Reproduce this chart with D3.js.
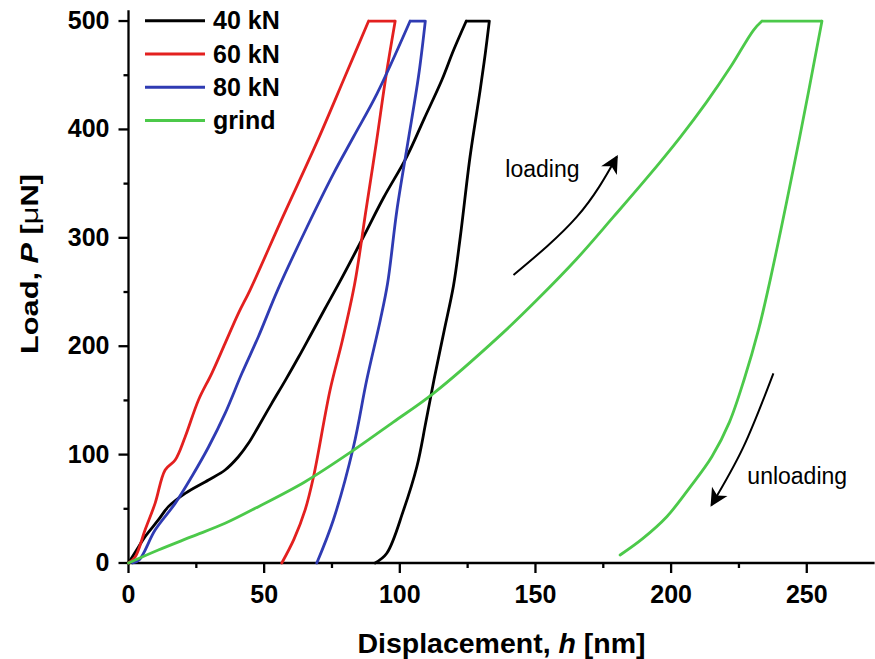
<!DOCTYPE html>
<html>
<head>
<meta charset="utf-8">
<script src="https://cdn.jsdelivr.net/npm/d3@7"></script>
<style>
  html, body { margin: 0; padding: 0; background: #fff; }
  svg { display: block; font-family: "Liberation Sans", Arial, Helvetica, sans-serif; }
</style>
</head>
<body>
<svg id="chart" width="875" height="659"></svg>
<script>
// Load–displacement curves (loading, hold at peak, unloading), h in nm, P in µN
const h40 = [0, 3, 6.1, 11, 14.7, 20.9, 29.5, 35.6, 40.5, 44.2, 47.9, 52.8, 57.7, 62.7, 67.5, 72.5, 78, 86.6, 94, 102.6, 109, 115.5, 119.8, 124.5,
             133, 131.5, 129.6, 125.9, 122.3, 119.8, 116.4, 112.6, 109.6, 106.3, 101.4, 95.2, 90.9];
const p40 = [0, 12, 24.3, 39.7, 52, 64.3, 76.6, 85.8, 98, 110.4, 126, 147.3, 168, 190, 212, 235, 260, 301, 337, 375, 410, 445.6, 473, 500,
             500, 470, 436, 375, 301, 256, 215, 169, 130, 89, 49, 9, 0];

const h60 = [0, 2.5, 6.1, 9.8, 13.5, 17.2, 20.9, 25.8, 30.7, 35.6, 40.5, 44.8, 57, 69.4, 80, 88.5,
             98.3, 94.9, 91.3, 87.5, 83.4, 78.8, 74.3, 68.2, 65.1, 61, 56.5];
const p60 = [0, 5.8, 30.4, 55, 85.8, 95, 116.5, 150.4, 175, 202.6, 230.3, 251.8, 320, 388, 450, 500,
             500, 449, 387, 325, 258, 205, 159.6, 79.6, 49, 22, 0];

const h80 = [1.5, 4, 9.8, 17.2, 23.3, 29.5, 35.6, 41.8, 47.9, 55, 65.8, 75.6, 82.9, 91.6, 103.8,
             109.4, 106.9, 102.9, 98.9, 95.5, 92.8, 87.8, 82.9, 75.5, 69.4];
const p80 = [0, 3, 30.4, 55, 79.6, 107, 138, 175, 209, 252, 310, 359.5, 393, 433, 500,
             500, 449, 387, 325, 258, 224, 168.8, 107, 39.7, 0];

const hGrind = [0, 11, 23.3, 35.6, 47.9, 65.1, 82.9, 97.6, 112.4, 137, 150.5, 165, 178.8, 191, 203.4, 213, 222, 230.4, 233.5,
                255.6, 247.4, 236.5, 232.2, 227, 221.5, 215, 207, 198.4, 189.5, 181.2];
const pGrind = [0, 12, 24.3, 36.6, 52, 75, 104, 130, 156.5, 210, 242.6, 280, 319.5, 355, 393, 425, 458, 491.7, 500,
                500, 393, 261, 215, 170, 130, 98, 70, 42.7, 22.5, 7.4];

const seriesNames = ["40 kN", "60 kN", "80 kN", "grind"];
const seriesColors = ["#000000", "#e3201f", "#2f3bb3", "#4cc94a"];

const xMajorTicks = [0, 50, 100, 150, 200, 250];
const xMinorTicks = [25, 75, 125, 175, 225];
const yMajorTicks = [0, 100, 200, 300, 400, 500];
const yMinorTicks = [50, 150, 250, 350, 450];

// Annotation arrows (curved) and their labels, in data units
const loadingArrow = [[141.9, 265.7], [165.3, 319.5], [180.0, 374.8]];
const unloadingArrow = [[237.7, 174.9], [226.7, 107.3], [214.9, 53.5]];
const loadingLabel = { text: "loading", h: 138.9, p: 356.4 };
const unloadingLabel = { text: "unloading", h: 228.1, p: 72.9 };

const series = [
  { name: seriesNames[0], color: seriesColors[0], h: h40, p: p40 },
  { name: seriesNames[1], color: seriesColors[1], h: h60, p: p60 },
  { name: seriesNames[2], color: seriesColors[2], h: h80, p: p80 },
  { name: seriesNames[3], color: seriesColors[3], h: hGrind, p: pGrind }
];

const svg = d3.select("#chart");

const x = d3.scaleLinear().domain([0, 275]).range([128.5, 874.6]);
const y = d3.scaleLinear().domain([0, 510]).range([563, 10.2]);

// ---- axes ----
function styleAxis(g, fontSize) {
  g.select(".domain").attr("stroke", "#000").attr("stroke-width", 2.3);
  g.selectAll(".tick line").attr("stroke", "#000").attr("stroke-width", 2.3);
  g.selectAll(".tick text")
    .attr("fill", "#000")
    .style("font-size", fontSize + "px")
    .style("font-weight", "bold")
    .style("font-family", '"Liberation Sans", Arial, sans-serif');
}

const gxMinor = svg.append("g")
  .attr("transform", `translate(0,${y(0)})`)
  .call(d3.axisBottom(x).tickValues(xMinorTicks).tickSize(5).tickSizeOuter(0).tickFormat("").offset(0));
gxMinor.select(".domain").remove();
gxMinor.selectAll(".tick line").attr("stroke", "#000").attr("stroke-width", 2.3);

const gyMinor = svg.append("g")
  .attr("transform", `translate(${x(0)},0)`)
  .call(d3.axisLeft(y).tickValues(yMinorTicks).tickSize(5).tickSizeOuter(0).tickFormat("").offset(0));
gyMinor.select(".domain").remove();
gyMinor.selectAll(".tick line").attr("stroke", "#000").attr("stroke-width", 2.3);

const gx = svg.append("g")
  .attr("transform", `translate(0,${y(0)})`)
  .call(d3.axisBottom(x).tickValues(xMajorTicks).tickSize(10).tickPadding(12).tickSizeOuter(0).offset(0));
styleAxis(gx, 25);

const gy = svg.append("g")
  .attr("transform", `translate(${x(0)},0)`)
  .call(d3.axisLeft(y).tickValues(yMajorTicks).tickSize(10).tickPadding(9).tickSizeOuter(0).offset(0));
styleAxis(gy, 25);

// ---- axis titles ----
const xTitle = svg.append("text")
  .attr("x", 501.5).attr("y", 653)
  .attr("text-anchor", "middle")
  .style("font-size", "28.5px").style("font-weight", "bold").attr("fill", "#000");
xTitle.append("tspan").text("Displacement, ");
xTitle.append("tspan").style("font-style", "italic").text("h");
xTitle.append("tspan").text(" [nm]");

const yTitle = svg.append("text")
  .attr("transform", "translate(37.5,264) rotate(-90)")
  .attr("text-anchor", "middle")
  .attr("textLength", 180).attr("lengthAdjust", "spacingAndGlyphs")
  .style("font-size", "24.5px").style("font-weight", "bold").attr("fill", "#000");
yTitle.append("tspan").text("Load, ");
yTitle.append("tspan").style("font-style", "italic").text("P");
yTitle.append("tspan").text(" [");
yTitle.append("tspan").style("font-weight", "normal").text("\u03bc");
yTitle.append("tspan").text("N]");

// ---- curves: each drawn as loading / hold / unloading pieces ----
const smooth = d3.line()
  .x(d => x(d[0]))
  .y(d => y(d[1]))
  .curve(d3.curveCatmullRom.alpha(0.5));

function curvePath(s) {
  const pts = s.h.map((h, i) => [h, s.p[i]]);
  const peak = d3.max(s.p);
  const i0 = s.p.indexOf(peak);
  const i1 = s.p.lastIndexOf(peak);
  return smooth(pts.slice(0, i0 + 1)) +
         smooth(pts.slice(i0, i1 + 1)) +
         smooth(pts.slice(i1));
}

svg.append("g").selectAll("path.curve")
  .data(series)
  .join("path")
  .attr("class", "curve")
  .attr("fill", "none")
  .attr("stroke", d => d.color)
  .attr("stroke-width", 2.8)
  .attr("stroke-linejoin", "round")
  .attr("stroke-linecap", "round")
  .attr("d", curvePath);

// ---- legend ----
const legend = svg.append("g");
const legendRow = legend.selectAll("g")
  .data(series)
  .join("g")
  .attr("transform", (d, i) => `translate(145,${20.7 + i * 33.3})`);
legendRow.append("line")
  .attr("x1", 0).attr("x2", 60).attr("y1", 0).attr("y2", 0)
  .attr("stroke", d => d.color).attr("stroke-width", 3);
legendRow.append("text")
  .attr("x", 68).attr("y", 0).attr("dy", "0.35em")
  .style("font-size", "25px").style("font-weight", "bold").attr("fill", "#000")
  .text(d => d.name);

// ---- annotation arrows ----
const defs = svg.append("defs");
defs.append("marker")
  .attr("id", "arrow-head")
  .attr("markerUnits", "userSpaceOnUse")
  .attr("viewBox", "-19 -11 22 22")
  .attr("markerWidth", 22).attr("markerHeight", 22)
  .attr("refX", 0).attr("refY", 0)
  .attr("orient", "auto")
  .append("path")
  .attr("d", "M2,0L-16,-9L-11,0L-16,9Z")
  .attr("fill", "#000");

const arrowLine = d3.line()
  .x(d => x(d[0]))
  .y(d => y(d[1]))
  .curve(d3.curveNatural);

[loadingArrow, unloadingArrow].forEach(pts => {
  svg.append("path")
    .attr("d", arrowLine(pts))
    .attr("fill", "none")
    .attr("stroke", "#000")
    .attr("stroke-width", 2)
    .attr("marker-end", "url(#arrow-head)");
});

[loadingLabel, unloadingLabel].forEach(lbl => {
  svg.append("text")
    .attr("x", x(lbl.h)).attr("y", y(lbl.p))
    .style("font-size", "23px").attr("fill", "#000")
    .text(lbl.text);
});
</script>
</body>
</html>
